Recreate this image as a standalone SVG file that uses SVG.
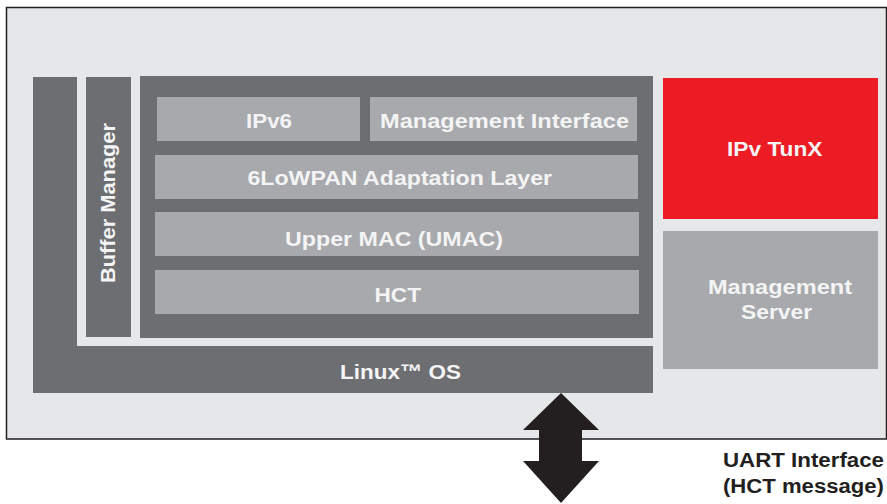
<svg xmlns="http://www.w3.org/2000/svg" width="887" height="504" viewBox="0 0 887 504">
  <style>
    .dark { fill: #6d6e71; }
    .mid { fill: #a7a9ac; }
    .red { fill: #ed1c24; }
    .lbl { font-family: "Liberation Sans", Arial, Helvetica, sans-serif; font-weight: bold; font-size: 21px; fill: #f4f4f5; }
    .cap { font-family: "Liberation Sans", Arial, Helvetica, sans-serif; font-weight: bold; font-size: 20px; fill: #231f20; }
  </style>
  <rect x="0" y="0" width="887" height="504" fill="#ffffff"/>
  <g id="frame">
    <rect x="6.5" y="7.5" width="880" height="431.5" fill="#e6e7e8" stroke="#231f20" stroke-width="1.5"/>
  </g>
  <g id="linux-os">
    <path class="dark" d="M33,77 H77 V346 H653 V393 H33 Z"/>
    <text class="lbl" x="340" y="379" textLength="121" lengthAdjust="spacingAndGlyphs">Linux™ OS</text>
  </g>
  <g id="buffer-manager">
    <rect class="dark" x="86" y="77" width="45" height="260"/>
    <text class="lbl" transform="translate(114.5,283) rotate(-90)" x="0" y="0" textLength="160" lengthAdjust="spacingAndGlyphs">Buffer Manager</text>
  </g>
  <g id="stack">
    <rect class="dark" x="140" y="76" width="513" height="262"/>
  </g>
  <g id="ipv6">
    <rect class="mid" x="157" y="97" width="203" height="44"/>
    <text class="lbl" x="246" y="128.3" textLength="46" lengthAdjust="spacingAndGlyphs">IPv6</text>
  </g>
  <g id="management-interface">
    <rect class="mid" x="370" y="97" width="267" height="44"/>
    <text class="lbl" x="380" y="128.3" textLength="249" lengthAdjust="spacingAndGlyphs">Management Interface</text>
  </g>
  <g id="adaptation-layer">
    <rect class="mid" x="155" y="155" width="483" height="44"/>
    <text class="lbl" x="247.5" y="185" textLength="304.5" lengthAdjust="spacingAndGlyphs">6LoWPAN Adaptation Layer</text>
  </g>
  <g id="umac">
    <rect class="mid" x="155" y="212" width="484" height="44"/>
    <text class="lbl" x="285" y="246" textLength="218" lengthAdjust="spacingAndGlyphs">Upper MAC (UMAC)</text>
  </g>
  <g id="hct">
    <rect class="mid" x="155" y="270" width="484" height="44"/>
    <text class="lbl" x="374.5" y="301.5" textLength="46.5" lengthAdjust="spacingAndGlyphs">HCT</text>
  </g>
  <g id="ipv-tunx">
    <rect class="red" x="663" y="78" width="215" height="141"/>
    <text class="lbl" x="727" y="155.7" textLength="95.5" lengthAdjust="spacingAndGlyphs">IPv TunX</text>
  </g>
  <g id="management-server">
    <rect class="mid" x="663" y="231" width="215" height="138"/>
    <text class="lbl" x="708" y="294.3" textLength="144" lengthAdjust="spacingAndGlyphs">Management</text>
    <text class="lbl" x="741" y="319.3" textLength="71" lengthAdjust="spacingAndGlyphs">Server</text>
  </g>
  <g id="connectors">
    <polygon fill="#231f20" points="561,393 599,430 582,430 582,461 599,461 561,503 523,461 539,461 539,430 523,430"/>
  </g>
  <g id="uart-label">
    <text class="cap" x="723" y="466.7" textLength="161" lengthAdjust="spacingAndGlyphs">UART Interface</text>
    <text class="cap" x="723" y="493" textLength="161" lengthAdjust="spacingAndGlyphs">(HCT message)</text>
  </g>
</svg>
